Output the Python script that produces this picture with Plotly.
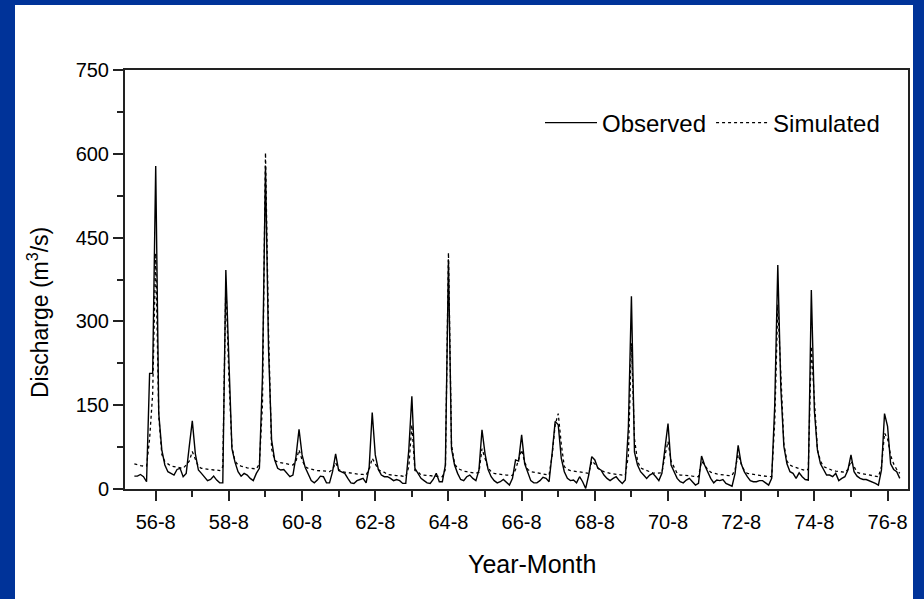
import plotly.graph_objects as go

# Monthly series, Jan 1956 .. Dec 1976 (month index 0 = 1956-01)
observed = [
    23, 23, 26, 22, 13, 207, 207, 578, 135, 70, 43, 31,
    28, 25, 35, 37, 22, 28, 76, 122, 63, 34, 28, 21,
    15, 17, 23, 16, 11, 11, 392, 231, 72, 48, 31, 23,
    28, 25, 19, 15, 28, 37, 200, 578, 250, 88, 52, 37,
    34, 35, 29, 22, 25, 58, 107, 61, 39, 28, 15, 11,
    16, 23, 22, 11, 11, 31, 63, 33, 31, 28, 19, 11,
    10, 15, 17, 19, 11, 39, 137, 61, 35, 25, 22, 22,
    19, 15, 17, 15, 10, 10, 70, 166, 37, 28, 19, 15,
    11, 10, 17, 28, 13, 13, 43, 410, 72, 43, 28, 17,
    15, 22, 25, 19, 15, 34, 106, 63, 35, 22, 15, 11,
    13, 17, 11, 7, 19, 52, 50, 97, 45, 28, 15, 11,
    11, 15, 21, 19, 13, 64, 121, 115, 55, 31, 19, 15,
    16, 11, 22, 13, 1, 25, 58, 52, 37, 34, 25, 19,
    15, 19, 22, 15, 10, 16, 110, 345, 66, 43, 31, 25,
    19, 25, 28, 22, 15, 28, 76, 117, 43, 31, 19, 13,
    11, 16, 19, 13, 7, 10, 59, 43, 31, 19, 11, 16,
    15, 17, 10, 7, 5, 28, 78, 45, 31, 22, 15, 13,
    13, 15, 15, 11, 7, 19, 150, 401, 180, 76, 45, 31,
    28, 19, 29, 22, 17, 16, 356, 140, 70, 45, 34, 25,
    25, 22, 28, 15, 19, 22, 34, 61, 31, 23, 19, 17,
    17, 15, 13, 10, 7, 34, 135, 112, 45, 35, 31, 19,
]

simulated = [
    45, 43, 42, 41, 41, 90, 170, 422, 130, 62, 49, 45,
    41, 40, 39, 39, 37, 43, 50, 67, 55, 40, 37, 36,
    35, 35, 34, 34, 33, 40, 370, 200, 75, 50, 43, 41,
    39, 38, 37, 36, 36, 45, 150, 602, 280, 72, 52, 48,
    47, 46, 45, 44, 43, 50, 70, 52, 40, 37, 35, 34,
    33, 33, 32, 32, 31, 35, 47, 35, 31, 30, 29, 28,
    27, 27, 26, 26, 25, 35, 55, 45, 35, 31, 30, 26,
    25, 25, 24, 24, 23, 22, 40, 115, 33, 31, 25, 25,
    24, 24, 23, 23, 22, 22, 35, 423, 80, 45, 37, 34,
    32, 31, 30, 29, 28, 30, 72, 55, 38, 31, 28, 27,
    26, 26, 25, 25, 24, 35, 55, 70, 48, 35, 31, 30,
    29, 28, 27, 26, 25, 60, 115, 135, 80, 40, 35, 33,
    32, 31, 30, 29, 28, 28, 50, 45, 38, 33, 31, 29,
    28, 27, 26, 26, 25, 25, 60, 261, 90, 50, 38, 35,
    33, 30, 29, 28, 28, 29, 60, 85, 50, 38, 28, 25,
    25, 24, 24, 23, 23, 22, 50, 42, 35, 30, 28, 27,
    26, 25, 25, 24, 24, 35, 62, 45, 33, 28, 27, 26,
    25, 24, 23, 22, 22, 22, 120, 330, 200, 80, 50, 43,
    40, 38, 37, 35, 33, 35, 255, 160, 70, 50, 40, 38,
    35, 33, 32, 31, 30, 30, 35, 50, 40, 30, 28, 27,
    26, 25, 24, 23, 22, 40, 100, 90, 60, 45, 35, 28,
]

months = list(range(len(observed)))  # month index from Jan 1956

tick_months = [7, 31, 55, 79, 103, 127, 151, 175, 199, 223, 247]
tick_labels = ["56-8", "58-8", "60-8", "62-8", "64-8", "66-8",
               "68-8", "70-8", "72-8", "74-8", "76-8"]
y_ticks = [0, 150, 300, 450, 600, 750]

FONT = "Liberation Sans, Arial, sans-serif"
BLUE = "#003399"
AX = "#222222"

fig = go.Figure()
fig.add_trace(go.Scatter(x=months, y=observed, mode="lines", name="Observed",
                         line=dict(color="black", width=1.4, dash="solid")))
fig.add_trace(go.Scatter(x=months, y=simulated, mode="lines", name="Simulated",
                         line=dict(color="black", width=1.3, dash="dot")))

W, H = 924, 599
L, R, T, B = 125, 16, 70, 110
pw, ph = W - L - R, H - T - B

def px_x(px):
    return (px - L) / pw

def px_y(py):
    return 1 - (py - T) / ph

# white panel on blue frame
fig.add_shape(type="rect", xref="paper", yref="paper", layer="below",
              x0=px_x(15), x1=px_x(913), y0=px_y(605), y1=px_y(5),
              fillcolor="white", line=dict(width=0))

fig.add_annotation(text="Discharge (m<sup>3</sup>/s)", xref="paper", yref="paper",
                   x=px_x(38), y=px_y(313), textangle=-90, showarrow=False,
                   font=dict(family=FONT, size=23, color="black"),
                   xanchor="center", yanchor="middle")
fig.add_annotation(text="Year-Month", xref="paper", yref="paper",
                   x=px_x(532), y=px_y(564), showarrow=False,
                   font=dict(family=FONT, size=25, color="black"),
                   xanchor="center", yanchor="middle")

fig.update_layout(
    width=W, height=H,
    margin=dict(l=L, r=R, t=T, b=B),
    paper_bgcolor=BLUE,
    plot_bgcolor="white",
    font=dict(family=FONT, color="black"),
    showlegend=True,
    legend=dict(orientation="h", x=px_x(540), y=px_y(123), xanchor="left", yanchor="middle",
                font=dict(family=FONT, size=24, color="black"),
                bgcolor="rgba(0,0,0,0)", itemwidth=52, tracegroupgap=0),
    xaxis=dict(range=[-3.07, 253.7], tickmode="array", tickvals=tick_months,
               ticktext=tick_labels, ticks="outside", ticklen=10, tickwidth=1.5,
               tickcolor=AX, showline=True, linecolor=AX, linewidth=2,
               mirror=True, showgrid=False, zeroline=False, ticklabelstandoff=4,
               tickfont=dict(family=FONT, size=20, color="black"),
               minor=dict(tickmode="linear", tick0=7, dtick=12, ticks="outside",
                          ticklen=6, tickwidth=1.5, tickcolor=AX, showgrid=False)),
    yaxis=dict(range=[0, 750], tickmode="array", tickvals=y_ticks,
               ticks="outside", ticklen=10, tickwidth=1.5, tickcolor=AX,
               showline=True, linecolor=AX, linewidth=2, mirror=True,
               showgrid=False, zeroline=False,
               tickfont=dict(family=FONT, size=20, color="black"),
               minor=dict(tickmode="linear", tick0=0, dtick=75, ticks="outside",
                          ticklen=6, tickwidth=1.5, tickcolor=AX, showgrid=False)),
)

fig.write_html(
    "out.html",
    config={"displayModeBar": False},
    post_script="document.documentElement.style.margin='0';"
                "document.body.style.margin='0';"
                "document.body.style.overflow='hidden';"
                "document.body.style.background='" + BLUE + "';",
)
